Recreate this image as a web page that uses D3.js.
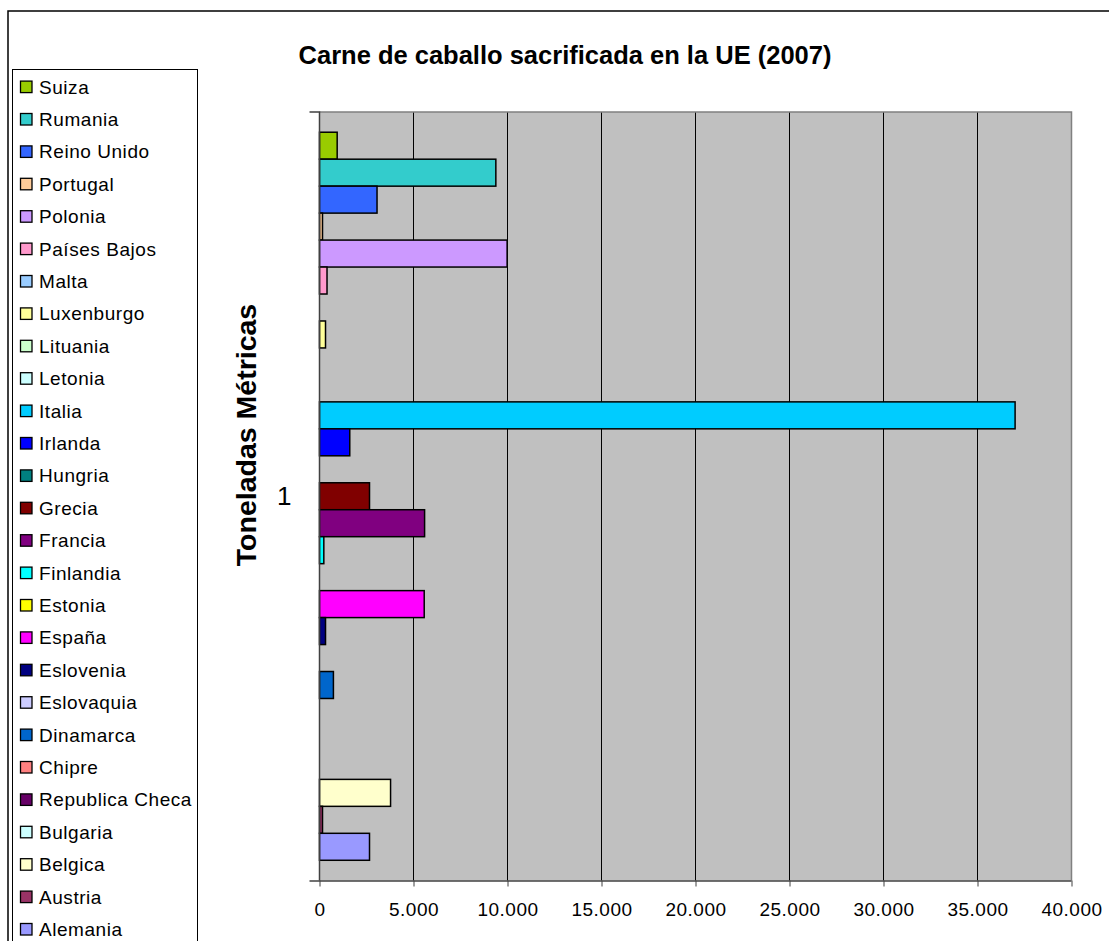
<!DOCTYPE html>
<html><head><meta charset="utf-8">
<script src="https://cdn.jsdelivr.net/npm/d3@7"></script>
<style>
html,body{margin:0;padding:0;background:#fff;}
svg{display:block;font-family:"Liberation Sans",Arial,sans-serif;}
</style></head>
<body>
<svg id="chart" width="1109" height="941"></svg>
<script>
// Data (legend / plot order, top to bottom)
const countries = ["Suiza","Rumania","Reino Unido","Portugal","Polonia","Países Bajos","Malta","Luxenburgo","Lituania","Letonia","Italia","Irlanda","Hungria","Grecia","Francia","Finlandia","Estonia","España","Eslovenia","Eslovaquia","Dinamarca","Chipre","Republica Checa","Bulgaria","Belgica","Austria","Alemania"];
const values = [940,9380,3060,160,9980,400,0,320,0,0,37000,1610,0,2660,5590,230,0,5570,320,0,740,0,0,0,3780,160,2660];
const colors = ["#99CC00","#33CCCC","#3366FF","#FFCC99","#CC99FF","#FF99CC","#99CCFF","#FFFF99","#CCFFCC","#CCFFFF","#00CCFF","#0000FF","#008080","#800000","#800080","#00FFFF","#FFFF00","#FF00FF","#000080","#CCCCFF","#0066CC","#FF8080","#660066","#CCFFFF","#FFFFCC","#993366","#9999FF"];
const categories = ["1"];
const xTicks = [0,5000,10000,15000,20000,25000,30000,35000,40000];
const title = "Carne de caballo sacrificada en la UE (2007)";
const yTitle = "Toneladas Métricas";

const svg = d3.select("#chart");
const plot = {left:319.5, right:1071.5, top:112, bottom:880.5};

// outer chart frame
svg.append("rect").attr("x",8).attr("y",11).attr("width",1120).attr("height",960)
  .attr("fill","none").attr("stroke","#000").attr("stroke-width",1.5);

// title
svg.append("text").attr("x",565).attr("y",64).attr("text-anchor","middle")
  .attr("font-size",25.5).attr("font-weight","bold").text(title);

const x = d3.scaleLinear().domain([0,40000]).range([plot.left,plot.right]);
const y0 = d3.scaleBand().domain(categories).range([plot.top,plot.bottom])
  .paddingInner(0).paddingOuter(0.75/27);
const y1 = d3.scaleBand().domain(countries).range([0,y0.bandwidth()]).padding(0);

// plot background
svg.append("rect").attr("x",plot.left).attr("y",plot.top)
  .attr("width",plot.right-plot.left).attr("height",plot.bottom-plot.top)
  .attr("fill","#C0C0C0");
// gridlines
svg.append("g").selectAll("line").data(xTicks.filter(d=>d>0 && d<40000)).join("line")
  .attr("x1",d=>x(d)).attr("x2",d=>x(d)).attr("y1",plot.top).attr("y2",plot.bottom)
  .attr("stroke","#000").attr("stroke-width",1);
// plot border top/right
svg.append("path").attr("d",`M${plot.left},${plot.top}H${plot.right}V${plot.bottom}`)
  .attr("fill","none").attr("stroke","#808080").attr("stroke-width",1.5);

// bars
const g = svg.append("g").attr("transform",`translate(0,${y0("1")})`);
g.selectAll("rect").data(countries).join("rect")
  .attr("x",x(0))
  .attr("y",d=>y1(d))
  .attr("width",(d,i)=>x(values[i])-x(0))
  .attr("height",y1.bandwidth())
  .attr("fill",(d,i)=>colors[i])
  .attr("stroke",(d,i)=>values[i]>0?"#000":"none")
  .attr("stroke-width",1.5);

// x axis
const xAxis = d3.axisBottom(x).tickValues(xTicks).tickSize(6)
  .tickFormat(d=>d3.format(",")(d).replace(/,/g,"."));
const xg = svg.append("g").attr("transform",`translate(0,${plot.bottom})`).call(xAxis);
xg.select(".domain").attr("d",`M${plot.left-10},0.5H${plot.right}`).attr("stroke","#404040").attr("stroke-width",1.5);
xg.selectAll(".tick line").attr("stroke","#404040");
xg.selectAll(".tick text").attr("font-size",19).attr("letter-spacing",0.5).attr("font-family","Liberation Sans, Arial, sans-serif")
  .attr("fill","#000").attr("dy",null).attr("y",35);

// y axis
const yAxis = d3.axisLeft(y0).tickSize(0).tickPadding(28);
const yg = svg.append("g").attr("transform",`translate(${plot.left},0)`).call(yAxis);
yg.select(".domain").attr("d",`M-10,${plot.top}H0V${plot.bottom}`).attr("stroke","#404040").attr("stroke-width",1.5).attr("fill","none");
yg.selectAll(".tick text").attr("font-size",26).attr("font-family","Liberation Sans, Arial, sans-serif")
  .attr("fill","#000");

// y title
svg.append("text").attr("transform","translate(256,435) rotate(-90)")
  .attr("text-anchor","middle").attr("font-size",28.5).attr("font-weight","bold").text(yTitle);

// legend
const leg = svg.append("g");
leg.append("rect").attr("x",12.5).attr("y",69.5).attr("width",185).attr("height",900)
  .attr("fill","#fff").attr("stroke","#000").attr("stroke-width",1);
const ly = i => 86.6 + i*32.4;
leg.selectAll("rect.sw").data(countries).join("rect").attr("class","sw")
  .attr("x",20.5).attr("y",(d,i)=>ly(i)-5.5).attr("width",11.5).attr("height",11.5)
  .attr("fill",(d,i)=>colors[i]).attr("stroke","#000").attr("stroke-width",1.3);
leg.selectAll("text.lt").data(countries).join("text").attr("class","lt")
  .attr("x",39).attr("y",(d,i)=>ly(i)+7).attr("font-size",19).attr("letter-spacing",0.55).text(d=>d);
</script>
</body></html>
